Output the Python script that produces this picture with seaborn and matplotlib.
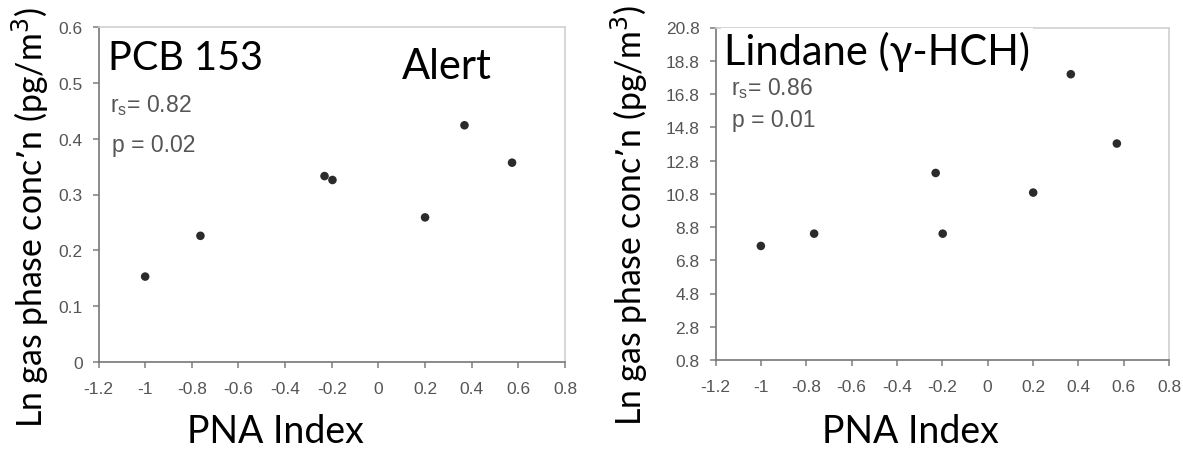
import matplotlib
matplotlib.use("Agg")
import matplotlib.pyplot as plt
import seaborn as sns
import pandas as pd
import numpy as np

# Data
pna_pcb = [-1.0, -0.763, -0.231, -0.197, 0.200, 0.369, 0.573]
conc_pcb = [0.153, 0.226, 0.333, 0.326, 0.259, 0.424, 0.357]
pna_lin = [-1.0, -0.765, -0.229, -0.198, 0.201, 0.367, 0.570]
conc_lin = [7.66, 8.40, 12.05, 8.40, 10.87, 17.99, 13.82]

x_ticks = [-1.2, -1.0, -0.8, -0.6, -0.4, -0.2, 0.0, 0.2, 0.4, 0.6, 0.8]
x_ticklabels = ["-1.2", "-1", "-0.8", "-0.6", "-0.4", "-0.2", "0", "0.2", "0.4", "0.6", "0.8"]
y_ticks_pcb = [0, 0.1, 0.2, 0.3, 0.4, 0.5, 0.6]
y_ticklabels_pcb = ["0", "0.1", "0.2", "0.3", "0.4", "0.5", "0.6"]
y_ticks_lin = [0.8, 2.8, 4.8, 6.8, 8.8, 10.8, 12.8, 14.8, 16.8, 18.8, 20.8]
y_ticklabels_lin = ["0.8", "2.8", "4.8", "6.8", "8.8", "10.8", "12.8", "14.8", "16.8", "18.8", "20.8"]

sns.set_theme(style="ticks")
plt.rcParams['font.family'] = ['Liberation Sans', 'DejaVu Sans']

big_font = ['Lato', 'DejaVu Sans']
W, H = 1183, 452
fig = plt.figure(figsize=(W / 100, H / 100), dpi=100)

def px_axes(x0, x1, ytop, ybot):
    return fig.add_axes([x0 / W, 1 - ybot / H, (x1 - x0) / W, (ybot - ytop) / H])

def fx(px):
    return px / W

def fy(py):
    return 1 - py / H

ax1 = px_axes(98.5, 565, 28, 363)
ax2 = px_axes(715.5, 1169, 28.5, 361)

df1 = pd.DataFrame({"pna": pna_pcb, "conc": conc_pcb})
df2 = pd.DataFrame({"pna": pna_lin, "conc": conc_lin})

for ax, df, yt, ytl, ylim in [
    (ax1, df1, y_ticks_pcb, y_ticklabels_pcb, (0, 0.6)),
    (ax2, df2, y_ticks_lin, y_ticklabels_lin, (0.8, 20.8)),
]:
    sns.scatterplot(data=df, x="pna", y="conc", ax=ax, color="#2b2b2b",
                    s=38, marker="o", edgecolor="none", zorder=3)
    ax.set_xlim(-1.2, 0.8)
    ax.set_ylim(*ylim)
    ax.set_xticks(x_ticks)
    ax.set_xticklabels(x_ticklabels)
    ax.set_yticks(yt)
    ax.set_yticklabels(ytl)
    ax.tick_params(axis="x", which="major", direction="out", length=4, width=1.2,
                   color="#888888", labelcolor="#555555", labelsize=12.5, pad=10)
    ax.tick_params(axis="y", which="major", direction="out", length=4.5, width=1.2,
                   color="#888888", labelcolor="#555555", labelsize=12.5, pad=7)
    for s in ["left", "bottom"]:
        ax.spines[s].set_visible(True)
        ax.spines[s].set_color("#777777")
        ax.spines[s].set_linewidth(1.2)
    for s in ["top", "right"]:
        ax.spines[s].set_visible(True)
        ax.spines[s].set_color("#d0d0d0")
        ax.spines[s].set_linewidth(1.2)
    ax.set_xlabel("")
    ax.set_ylabel("")
    ax.grid(False)

# Axis titles
ylab = "Ln gas phase conc\u2019n (pg/m$^3$)"
fig.text(fx(30), fy(218), ylab, rotation=90, fontsize=24.3, family=big_font,
         color="black", ha="center", va="center")
fig.text(fx(629), fy(216), ylab, rotation=90, fontsize=24.3, family=big_font,
         color="black", ha="center", va="center")
fig.text(fx(275), fy(443), "PNA Index", fontsize=27, family=big_font,
         color="black", ha="center", va="baseline")
fig.text(fx(910), fy(443), "PNA Index", fontsize=27, family=big_font,
         color="black", ha="center", va="baseline")

# Titles with white boxes covering the top spine
fig.text(fx(108), fy(70), "PCB 153", fontsize=28.5, family=big_font, color="black",
         ha="left", va="baseline",
         bbox=dict(facecolor="white", edgecolor="none", pad=2), zorder=10)
fig.text(fx(402), fy(79), "Alert", fontsize=30, family=big_font, color="black",
         ha="left", va="baseline", zorder=10)
fig.text(fx(724), fy(65), "Lindane (\u03b3-HCH)", fontsize=30, family=big_font,
         color="black", ha="left", va="baseline",
         bbox=dict(facecolor="white", edgecolor="none", pad=2), zorder=10)

# Stats
stat_kw = dict(fontsize=16.5, color="#555555", ha="left", va="baseline")
fig.text(fx(110), fy(112), "r$_\\mathregular{s}$= 0.82", **stat_kw)
fig.text(fx(112), fy(152), "p = 0.02", **stat_kw)
fig.text(fx(731), fy(95), "r$_\\mathregular{s}$= 0.86", **stat_kw)
fig.text(fx(732), fy(127), "p = 0.01", **stat_kw)

fig.savefig("out.png", dpi=100, facecolor="white")
